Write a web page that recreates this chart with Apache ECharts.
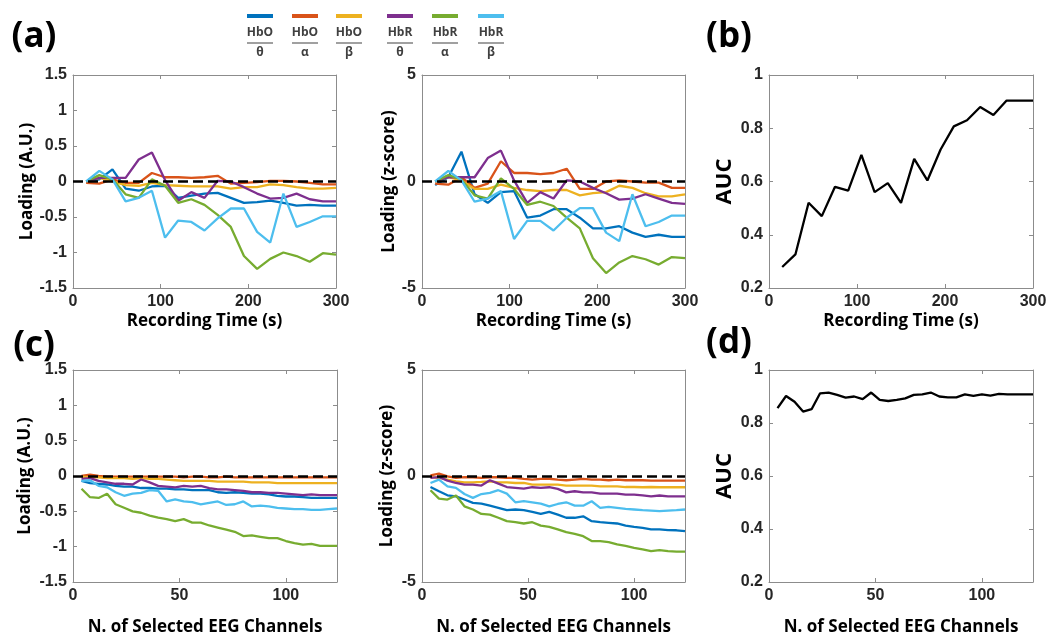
<!DOCTYPE html>
<html>
<head>
<meta charset="utf-8">
<script src="https://cdn.jsdelivr.net/npm/echarts@6/dist/echarts.min.js"></script>
<style>
  html, body { margin: 0; padding: 0; background: #fff; }
  #chart { width: 1051px; height: 642px; }
</style>
</head>
<body>
<div id="chart"></div>
<script>
// x values
const timeX = [15, 30, 45, 60, 75, 90, 105, 120, 135, 150, 165, 180, 195, 210, 225, 240, 255, 270, 285, 300];
const chanX = [4, 8, 12, 16, 20, 24, 28, 32, 36, 40, 44, 48, 52, 56, 60, 64, 68, 72, 76, 80, 84, 88, 92, 96, 100, 104, 108, 112, 116, 120, 124];

// legend
const seriesTop = ['HbO', 'HbO', 'HbO', 'HbR', 'HbR', 'HbR'];
const seriesBottom = ['θ', 'α', 'β', 'θ', 'α', 'β'];
const seriesColors = ['#0072BD', '#D95319', '#EDB120', '#7E2F8E', '#77AC30', '#4DBEEE'];

// (a) loading (A.U.) vs recording time
const timeAU = [
  [0, 0.03, 0.17, -0.1, -0.13, -0.07, -0.06, -0.23, -0.2, -0.17, -0.16, -0.23, -0.3, -0.29, -0.27, -0.3, -0.34, -0.33, -0.34, -0.34],
  [-0.02, -0.03, 0.03, -0.02, -0.02, 0.12, 0.06, 0.06, 0.05, 0.06, 0.08, -0.03, -0.02, -0.01, 0.01, 0.01, 0.0, -0.02, -0.04, -0.04],
  [0, 0.05, 0.0, -0.05, -0.06, -0.02, -0.05, -0.06, -0.07, -0.07, -0.07, -0.1, -0.08, -0.08, -0.04, -0.05, -0.08, -0.1, -0.1, -0.09],
  [0, 0.05, 0.05, 0.05, 0.31, 0.41, 0.02, -0.27, -0.15, -0.23, 0.01, 0.0, -0.08, -0.17, -0.24, -0.23, -0.17, -0.25, -0.28, -0.28],
  [0, 0.09, 0.03, -0.18, -0.23, 0.03, -0.06, -0.3, -0.25, -0.33, -0.47, -0.64, -1.05, -1.23, -1.09, -1.0, -1.05, -1.13, -1.01, -1.03],
  [0, 0.15, 0.03, -0.28, -0.23, -0.13, -0.79, -0.55, -0.57, -0.69, -0.52, -0.38, -0.38, -0.71, -0.86, -0.17, -0.64, -0.57, -0.49, -0.49]
];
// (a) loading (z-score) vs recording time
const timeZ = [
  [-0.17, 0.2, 1.4, -0.6, -1.0, -0.5, -0.45, -1.7, -1.6, -1.3, -1.3, -1.7, -2.2, -2.2, -2.1, -2.4, -2.6, -2.5, -2.6, -2.6],
  [-0.1, -0.15, 0.2, -0.3, -0.1, 0.95, 0.4, 0.4, 0.35, 0.4, 0.6, -0.35, -0.35, 0.0, 0.05, 0.0, -0.05, -0.05, -0.3, -0.3],
  [0, 0.2, 0.05, -0.35, -0.35, -0.15, -0.3, -0.4, -0.45, -0.4, -0.4, -0.65, -0.55, -0.5, -0.2, -0.3, -0.55, -0.7, -0.7, -0.6],
  [0, 0.2, 0.2, 0.2, 1.1, 1.45, 0.05, -1.0, -0.5, -0.8, 0.05, 0.0, -0.3, -0.55, -0.85, -0.8, -0.6, -0.8, -1.0, -1.05],
  [0, 0.3, 0.1, -0.65, -0.8, 0.15, -0.35, -1.1, -0.95, -1.15, -1.7, -2.2, -3.6, -4.3, -3.8, -3.5, -3.65, -3.9, -3.55, -3.6],
  [0, 0.5, 0.05, -0.95, -0.8, -0.45, -2.7, -1.85, -1.85, -2.3, -1.7, -1.25, -1.25, -2.4, -2.8, -0.6, -2.1, -1.9, -1.6, -1.6]
];
// (b) AUC vs recording time
const timeAUC = [0.279, 0.326, 0.52, 0.47, 0.58, 0.566, 0.70, 0.56, 0.594, 0.52, 0.685, 0.604, 0.72, 0.807, 0.83, 0.88, 0.85, 0.904, 0.904, 0.904];

// (c) loading (A.U.) vs selected channels
const chanAU = [
  [-0.07, -0.1, -0.11, -0.12, -0.14, -0.15, -0.15, -0.17, -0.17, -0.18, -0.18, -0.19, -0.19, -0.2, -0.2, -0.2, -0.23, -0.24, -0.23, -0.24, -0.25, -0.25, -0.26, -0.28, -0.29, -0.29, -0.3, -0.31, -0.31, -0.31, -0.31],
  [0, 0.02, 0, -0.01, -0.01, -0.01, -0.01, -0.01, -0.01, -0.01, -0.01, -0.01, -0.02, -0.01, -0.01, -0.02, -0.02, -0.01, -0.02, -0.02, -0.02, -0.02, -0.02, -0.02, -0.02, -0.02, -0.02, -0.02, -0.02, -0.02, -0.02],
  [-0.01, -0.02, -0.02, -0.03, -0.03, -0.03, -0.04, -0.03, -0.04, -0.04, -0.05, -0.06, -0.07, -0.07, -0.07, -0.07, -0.08, -0.08, -0.08, -0.08, -0.09, -0.09, -0.09, -0.1, -0.1, -0.1, -0.1, -0.1, -0.1, -0.1, -0.1],
  [-0.04, -0.03, -0.07, -0.09, -0.11, -0.11, -0.12, -0.05, -0.09, -0.14, -0.15, -0.16, -0.14, -0.15, -0.14, -0.17, -0.19, -0.19, -0.2, -0.21, -0.23, -0.23, -0.24, -0.24, -0.25, -0.26, -0.27, -0.26, -0.27, -0.27, -0.27],
  [-0.18, -0.3, -0.31, -0.25, -0.4, -0.45, -0.5, -0.52, -0.56, -0.59, -0.61, -0.64, -0.61, -0.66, -0.66, -0.7, -0.73, -0.76, -0.79, -0.85, -0.84, -0.86, -0.88, -0.88, -0.92, -0.95, -0.97, -0.96, -0.99, -0.99, -0.99],
  [-0.07, -0.06, -0.14, -0.16, -0.23, -0.28, -0.25, -0.24, -0.2, -0.21, -0.36, -0.33, -0.36, -0.37, -0.4, -0.38, -0.36, -0.41, -0.4, -0.36, -0.43, -0.42, -0.43, -0.45, -0.46, -0.47, -0.47, -0.48, -0.48, -0.47, -0.46]
];
// (c) loading (z-score) vs selected channels
const chanZ = [
  [-0.52, -0.72, -0.91, -0.96, -1.11, -1.27, -1.3, -1.4, -1.5, -1.61, -1.58, -1.61, -1.69, -1.79, -1.69, -1.82, -1.97, -1.97, -1.9, -2.13, -2.18, -2.21, -2.24, -2.34, -2.4, -2.45, -2.52, -2.52, -2.55, -2.56, -2.6],
  [0.03, 0.11, -0.02, -0.09, -0.05, -0.06, -0.09, -0.06, -0.06, -0.09, -0.09, -0.14, -0.17, -0.14, -0.13, -0.17, -0.2, -0.17, -0.14, -0.17, -0.17, -0.2, -0.17, -0.2, -0.2, -0.2, -0.22, -0.22, -0.22, -0.22, -0.22],
  [-0.05, -0.09, -0.17, -0.25, -0.3, -0.3, -0.28, -0.25, -0.3, -0.3, -0.33, -0.33, -0.41, -0.41, -0.41, -0.41, -0.45, -0.45, -0.45, -0.45, -0.49, -0.49, -0.49, -0.52, -0.52, -0.53, -0.52, -0.53, -0.53, -0.53, -0.53],
  [-0.09, -0.05, -0.22, -0.33, -0.41, -0.41, -0.45, -0.2, -0.36, -0.52, -0.56, -0.6, -0.53, -0.56, -0.53, -0.61, -0.77, -0.72, -0.77, -0.77, -0.83, -0.83, -0.83, -0.88, -0.88, -0.91, -0.96, -0.92, -0.96, -0.96, -0.96],
  [-0.67, -1.07, -1.11, -0.92, -1.43, -1.58, -1.79, -1.82, -1.97, -2.13, -2.18, -2.24, -2.18, -2.34, -2.4, -2.52, -2.65, -2.73, -2.84, -3.07, -3.07, -3.12, -3.23, -3.3, -3.39, -3.46, -3.54, -3.5, -3.54, -3.57, -3.57],
  [-0.33, -0.17, -0.49, -0.56, -0.85, -1.03, -0.85, -0.8, -0.67, -0.83, -1.24, -1.19, -1.24, -1.3, -1.43, -1.32, -1.24, -1.4, -1.4, -1.19, -1.5, -1.46, -1.5, -1.55, -1.58, -1.61, -1.63, -1.66, -1.63, -1.61, -1.58]
];
// (d) AUC vs selected channels
const chanAUC = [0.856, 0.902, 0.88, 0.843, 0.852, 0.912, 0.915, 0.906, 0.896, 0.9, 0.89, 0.915, 0.887, 0.883, 0.887, 0.893, 0.906, 0.908, 0.915, 0.9, 0.897, 0.897, 0.908, 0.902, 0.908, 0.903, 0.91, 0.908, 0.908, 0.908, 0.908];

const axisGray = '#8c8c8c';
const nameFont = 'Open Sans';
const tickFont = 'Liberation Sans';

const grids = [
  { left: 73, top: 75, width: 263, height: 213 },
  { left: 422, top: 75, width: 263, height: 213 },
  { left: 769, top: 75, width: 264, height: 213 },
  { left: 73, top: 370, width: 264, height: 212 },
  { left: 422, top: 370, width: 263, height: 212 },
  { left: 769, top: 370, width: 264, height: 212 }
];

function mainAxis(g, min, max, interval, name, gap, nameSize, hideMax) {
  return {
    type: 'value', gridIndex: g, min: min, max: max, interval: interval,
    name: name, nameLocation: 'middle', nameGap: gap,
    nameTextStyle: { fontFamily: nameFont, fontWeight: 'bold', fontSize: nameSize, color: '#000' },
    axisLine: { show: true, onZero: false, lineStyle: { color: axisGray, width: 1 } },
    axisTick: { show: true, inside: true, length: 4, lineStyle: { color: axisGray } },
    axisLabel: { fontFamily: tickFont, fontWeight: 'bold', fontSize: 16, color: '#262626', margin: 6,
      showMaxLabel: hideMax ? false : null },
    splitLine: { show: false }
  };
}
function mirrorAxis(g, min, max, interval, pos) {
  return {
    type: 'value', gridIndex: g, min: min, max: max, interval: interval, position: pos,
    axisLine: { show: true, onZero: false, lineStyle: { color: axisGray, width: 1 } },
    axisTick: { show: true, inside: true, length: 4, lineStyle: { color: axisGray } },
    axisLabel: { show: false },
    splitLine: { show: false }
  };
}

const xAxes = [];
const yAxes = [];
function addAxes(g, x, y) {
  xAxes.push(mainAxis(g, x.min, x.max, x.interval, x.name, x.gap, 17, x.hideMax));
  xAxes.push(mirrorAxis(g, x.min, x.max, x.interval, 'top'));
  yAxes.push(mainAxis(g, y.min, y.max, y.interval, y.name, y.gap, y.size, false));
  yAxes.push(mirrorAxis(g, y.min, y.max, y.interval, 'right'));
}
const timeAxis = { min: 0, max: 300, interval: 100, name: 'Recording Time (s)', gap: 25 };
const chanAxis = { min: 0, max: 124, interval: 50, name: 'N. of Selected EEG Channels', gap: 37, hideMax: true };
addAxes(0, timeAxis, { min: -1.5, max: 1.5, interval: 0.5, name: 'Loading (A.U.)', gap: 37, size: 17 });
addAxes(1, timeAxis, { min: -5, max: 5, interval: 5, name: 'Loading (z-score)', gap: 22, size: 17 });
addAxes(2, timeAxis, { min: 0.2, max: 1, interval: 0.2, name: 'AUC', gap: 33, size: 22 });
addAxes(3, chanAxis, { min: -1.5, max: 1.5, interval: 0.5, name: 'Loading (A.U.)', gap: 39, size: 17 });
addAxes(4, chanAxis, { min: -5, max: 5, interval: 5, name: 'Loading (z-score)', gap: 26, size: 17 });
addAxes(5, chanAxis, { min: 0.2, max: 1, interval: 0.2, name: 'AUC', gap: 33, size: 22 });

const series = [];
function addLoading(g, xs, sets) {
  sets.forEach(function (vals, i) {
    const s = {
      type: 'line', xAxisIndex: 2 * g, yAxisIndex: 2 * g,
      name: seriesTop[i] + ' ' + seriesBottom[i],
      data: xs.map(function (x, k) { return [x, vals[k]]; }),
      showSymbol: false, symbol: 'none',
      lineStyle: { color: seriesColors[i], width: 2.3 },
      z: 2
    };
    if (i === sets.length - 1) {
      s.markLine = {
        silent: true, symbol: 'none', label: { show: false },
        lineStyle: { color: '#000', width: 2.5, type: [10, 5] },
        data: [{ yAxis: 0 }]
      };
    }
    series.push(s);
  });
}
function addAUC(g, xs, vals) {
  series.push({
    type: 'line', xAxisIndex: 2 * g, yAxisIndex: 2 * g, name: 'AUC',
    data: xs.map(function (x, k) { return [x, vals[k]]; }),
    showSymbol: false, symbol: 'none',
    lineStyle: { color: '#000', width: 2.3 }
  });
}
addLoading(0, timeX, timeAU);
addLoading(1, timeX, timeZ);
addAUC(2, timeX, timeAUC);
addLoading(3, chanX, chanAU);
addLoading(4, chanX, chanZ);
addAUC(5, chanX, chanAUC);

// legend drawn as graphic items
const legendX = [260, 305, 349, 400, 445, 491];
const graphics = [];
legendX.forEach(function (cx, i) {
  graphics.push({ type: 'line', shape: { x1: cx - 13, y1: 16, x2: cx + 13, y2: 16 },
    style: { stroke: seriesColors[i], lineWidth: 4 } });
  graphics.push({ type: 'text', x: cx, y: 33,
    style: { text: seriesTop[i], font: 'bold 12px "Open Sans"', fill: '#404040', textAlign: 'center', textVerticalAlign: 'middle' } });
  graphics.push({ type: 'line', shape: { x1: cx - 13, y1: 43, x2: cx + 13, y2: 43 },
    style: { stroke: '#808080', lineWidth: 1.5 } });
  graphics.push({ type: 'text', x: cx, y: 53,
    style: { text: seriesBottom[i], font: 'bold 12px "Open Sans"', fill: '#404040', textAlign: 'center', textVerticalAlign: 'middle' } });
});
const panelLabels = [['(a)', 34, 37], ['(b)', 729, 37], ['(c)', 34, 346], ['(d)', 729, 343]];
panelLabels.forEach(function (p) {
  graphics.push({ type: 'text', x: p[1], y: p[2],
    style: { text: p[0], font: 'bold 35px "Open Sans"', fill: '#000', textAlign: 'center', textVerticalAlign: 'middle' } });
});

const chart = echarts.init(document.getElementById('chart'));
chart.setOption({
  animation: false,
  backgroundColor: '#fff',
  grid: grids,
  xAxis: xAxes,
  yAxis: yAxes,
  series: series,
  graphic: graphics
});
</script>
</body>
</html>
